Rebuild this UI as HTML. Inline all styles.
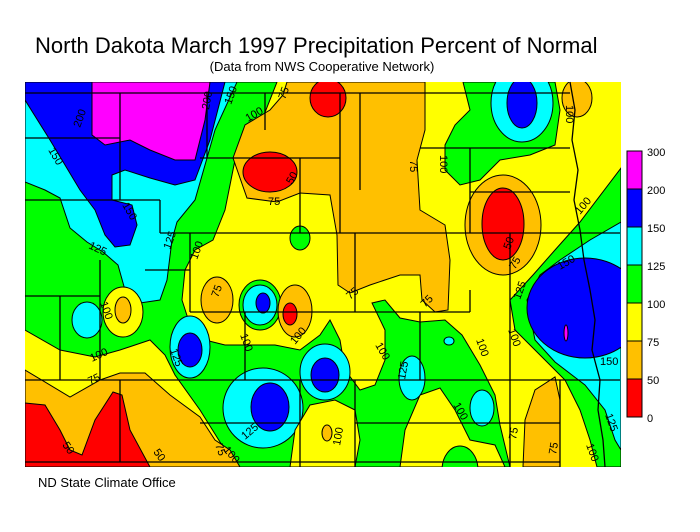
<!DOCTYPE html>
<html><head><meta charset="utf-8"><style>
html,body{margin:0;padding:0;background:#fff;}
svg{display:block;font-family:"Liberation Sans",Arial,sans-serif;}
</style></head><body>
<svg width="700" height="532" viewBox="0 0 700 532" xmlns="http://www.w3.org/2000/svg">
<rect width="700" height="532" fill="#fff"/>
<text x="35" y="53" font-size="22" fill="#000">North Dakota March 1997 Precipitation Percent of Normal</text>
<text x="322" y="71" font-size="13" text-anchor="middle" fill="#000">(Data from NWS Cooperative Network)</text>
<text x="38" y="487" font-size="13" fill="#000">ND State Climate Office</text>
<defs><clipPath id="m"><rect x="25" y="82" width="596" height="385"/></clipPath></defs>
<g clip-path="url(#m)" stroke="#000" stroke-width="1">
<rect x="20" y="78" width="610" height="395" fill="#ffff00"/>
<path fill="#00ff00" d="M25,180 L25,330 60,350 95,357 120,350 150,340 165,355 175,375 200,410 225,450 235,467 510,467 500,425 495,395 480,365 462,335 445,320 420,322 400,318 385,300 372,303 385,330 385,360 375,385 360,390 345,370 340,340 330,320 320,335 300,350 275,345 250,345 225,345 205,340 190,325 182,300 185,270 195,250 213,240 225,210 235,160 262,120 277,82 25,82Z"/>
<path fill="#00ffff" d="M25,95 L25,182 45,190 60,198 70,228 87,242 103,252 118,265 125,290 140,303 160,300 167,280 172,240 177,222 195,200 215,130 237,82 25,82Z"/>
<path fill="#0000ff" d="M25,82 L25,100 50,140 80,190 95,210 105,235 115,247 130,245 137,225 132,205 112,200 112,175 125,170 150,178 175,185 195,180 210,140 225,82Z"/>
<path fill="#ff00ff" d="M92,82 L92,135 105,145 130,140 150,150 175,160 195,160 205,120 210,82Z"/>
<ellipse cx="87" cy="320" rx="15" ry="18" fill="#00ffff"/>
<ellipse cx="123" cy="312" rx="20" ry="25" fill="#ffff00"/>
<ellipse cx="123" cy="310" rx="8" ry="13" fill="#ffc000"/>
<ellipse cx="190" cy="347" rx="20" ry="31" fill="#00ffff"/>
<ellipse cx="190" cy="350" rx="12" ry="17" fill="#0000ff"/>
<ellipse cx="217" cy="300" rx="16" ry="23" fill="#ffc000"/>
<ellipse cx="260" cy="305" rx="21" ry="25" fill="#00ff00"/>
<ellipse cx="260" cy="305" rx="17" ry="20" fill="#00ffff"/>
<ellipse cx="263" cy="303" rx="7" ry="10" fill="#0000ff"/>
<ellipse cx="295" cy="311" rx="17" ry="26" fill="#ffc000"/>
<ellipse cx="290" cy="314" rx="7" ry="11" fill="#ff0000"/>
<ellipse cx="325" cy="372" rx="25" ry="28" fill="#00ffff"/>
<ellipse cx="325" cy="375" rx="14" ry="17" fill="#0000ff"/>
<ellipse cx="263" cy="408" rx="40" ry="40" fill="#00ffff"/>
<ellipse cx="270" cy="407" rx="19" ry="24" fill="#0000ff"/>
<path fill="#ffff00" d="M290,467 L295,430 310,405 335,400 355,410 360,440 355,467Z"/>
<ellipse cx="327" cy="433" rx="5" ry="8" fill="#ffc000"/>
<path fill="#ffff00" d="M400,467 L405,430 420,395 440,388 455,410 470,440 495,445 505,467Z"/>
<ellipse cx="460" cy="470" rx="18" ry="24" fill="#00ff00"/>
<ellipse cx="412" cy="378" rx="13" ry="22" fill="#00ffff"/>
<ellipse cx="449" cy="341" rx="5" ry="4" fill="#00ffff"/>
<ellipse cx="482" cy="408" rx="12" ry="18" fill="#00ffff"/>
<path fill="#ffc000" d="M25,370 L70,397 100,380 120,373 145,373 170,395 200,417 215,440 230,450 240,467 25,467Z"/>
<path fill="#ff0000" d="M25,403 L45,405 60,430 70,450 82,455 95,420 113,392 122,395 130,430 150,467 25,467Z"/>
<path fill="#ffc000" d="M287,82 L425,82 425,130 417,160 420,210 445,225 450,260 448,310 435,312 422,300 420,275 400,275 370,285 350,293 338,285 337,235 330,195 300,193 277,202 247,198 233,158 245,125 270,110 283,95Z"/>
<ellipse cx="328" cy="98" rx="18" ry="19" fill="#ff0000"/>
<ellipse cx="270" cy="172" rx="27" ry="20" fill="#ff0000"/>
<ellipse cx="300" cy="238" rx="10" ry="12" fill="#00ff00"/>
<path fill="#00ff00" d="M463,82 L470,110 455,125 445,145 445,170 460,185 480,180 500,160 530,155 555,145 560,110 555,82Z"/>
<ellipse cx="522" cy="103" rx="31" ry="39" fill="#00ffff"/>
<ellipse cx="522" cy="103" rx="15" ry="25" fill="#0000ff"/>
<ellipse cx="577" cy="98" rx="15" ry="19" fill="#ffc000"/>
<ellipse cx="503" cy="225" rx="38" ry="50" fill="#ffc000"/>
<ellipse cx="503" cy="224" rx="21" ry="36" fill="#ff0000"/>
<path fill="#00ff00" d="M621,168 L580,222 555,250 533,275 510,300 515,330 540,355 565,380 580,410 590,440 597,467 621,467Z"/>
<path fill="#00ffff" d="M621,222 L590,240 560,260 540,275 527,300 535,340 555,362 585,385 605,410 615,440 621,450Z"/>
<ellipse cx="585" cy="308" rx="58" ry="50" fill="#0000ff"/>
<ellipse cx="566" cy="333" rx="2" ry="8" fill="#ff00ff"/>
<path fill="#ffc000" d="M523,467 L525,420 535,390 555,377 560,400 560,467Z"/>
</g>
<g stroke="#000" stroke-width="1.3" fill="none">
<path d="M25,93 H570 M25,138 H120 M120,93 V200 M25,200 H160 M160,200 V233 M207,93 V158 M200,158 H340 M265,93 V130 M300,158 V233 M340,93 V233 M160,233 H620 M360,93 V190 M420,148 H570 M470,192 H570 M470,148 V233"/>
<path d="M25,296 H100 M60,296 V380 M100,260 V380 M25,380 H620 M190,312 H470 M190,233 V312 M245,312 V380 M355,233 V312 M420,312 V380 M470,290 V312 M510,233 V467 M355,423 H560 M355,380 V467 M200,423 H300 M300,380 V467 M560,380 V467 M25,462 H560 M120,380 V462 M145,270 H190"/>
<path d="M570,82 L575,110 572,140 578,170 574,200 580,230 584,260 590,290 595,320 592,350 600,380 598,410 603,440 605,467"/>
</g>
<g font-size="11" fill="#000">
<text x="80" y="128" transform="rotate(-70 80 128)">200</text>
<text x="48" y="150" transform="rotate(60 48 150)">150</text>
<text x="122" y="205" transform="rotate(60 122 205)">150</text>
<text x="88" y="248" transform="rotate(25 88 248)">125</text>
<text x="170" y="250" transform="rotate(-70 170 250)">125</text>
<text x="197" y="260" transform="rotate(-70 197 260)">100</text>
<text x="248" y="122" transform="rotate(-30 248 122)">100</text>
<text x="285" y="100" transform="rotate(-70 285 100)">75</text>
<text x="268" y="205">75</text>
<text x="292" y="185" transform="rotate(-60 292 185)">50</text>
<text x="209" y="110" transform="rotate(-80 209 110)">200</text>
<text x="231" y="105" transform="rotate(-70 231 105)">150</text>
<text x="410" y="160" transform="rotate(90 410 160)">75</text>
<text x="440" y="155" transform="rotate(90 440 155)">100</text>
<text x="510" y="250" transform="rotate(-70 510 250)">50</text>
<text x="515" y="270" transform="rotate(-60 515 270)">75</text>
<text x="580" y="215" transform="rotate(-50 580 215)">100</text>
<text x="560" y="270" transform="rotate(-30 560 270)">150</text>
<text x="600" y="365">150</text>
<text x="92" y="362" transform="rotate(-25 92 362)">100</text>
<text x="100" y="303" transform="rotate(70 100 303)">100</text>
<text x="90" y="385" transform="rotate(-25 90 385)">75</text>
<text x="62" y="445" transform="rotate(55 62 445)">50</text>
<text x="153" y="452" transform="rotate(55 153 452)">50</text>
<text x="170" y="350" transform="rotate(70 170 350)">125</text>
<text x="218" y="298" transform="rotate(-70 218 298)">75</text>
<text x="240" y="335" transform="rotate(70 240 335)">100</text>
<text x="295" y="345" transform="rotate(-50 295 345)">100</text>
<text x="350" y="300" transform="rotate(-40 350 300)">75</text>
<text x="425" y="308" transform="rotate(-45 425 308)">75</text>
<text x="375" y="345" transform="rotate(60 375 345)">100</text>
<text x="405" y="380" transform="rotate(-80 405 380)">125</text>
<text x="453" y="405" transform="rotate(60 453 405)">100</text>
<text x="340" y="446" transform="rotate(-80 340 446)">100</text>
<text x="516" y="440" transform="rotate(-80 516 440)">75</text>
<text x="556" y="455" transform="rotate(-80 556 455)">75</text>
<text x="586" y="445" transform="rotate(70 586 445)">100</text>
<text x="605" y="415" transform="rotate(70 605 415)">125</text>
<text x="508" y="330" transform="rotate(70 508 330)">100</text>
<text x="520" y="300" transform="rotate(-70 520 300)">125</text>
<text x="476" y="340" transform="rotate(70 476 340)">100</text>
<text x="215" y="445" transform="rotate(70 215 445)">75</text>
<text x="245" y="440" transform="rotate(-40 245 440)">125</text>
<text x="223" y="450" transform="rotate(50 223 450)">100</text>
<text x="566" y="105" transform="rotate(90 566 105)">100</text>
</g>
<g stroke="#000" stroke-width="1">
<rect x="627" y="151" width="15" height="38" fill="#ff00ff"/>
<rect x="627" y="189" width="15" height="38" fill="#0000ff"/>
<rect x="627" y="227" width="15" height="38" fill="#00ffff"/>
<rect x="627" y="265" width="15" height="38" fill="#00ff00"/>
<rect x="627" y="303" width="15" height="38" fill="#ffff00"/>
<rect x="627" y="341" width="15" height="38" fill="#ffc000"/>
<rect x="627" y="379" width="15" height="38" fill="#ff0000"/>
</g>
<g font-size="11" fill="#000">
<text x="647" y="156">300</text>
<text x="647" y="194">200</text>
<text x="647" y="232">150</text>
<text x="647" y="270">125</text>
<text x="647" y="308">100</text>
<text x="647" y="346">75</text>
<text x="647" y="384">50</text>
<text x="647" y="422">0</text>
</g>
</svg>
</body></html>
